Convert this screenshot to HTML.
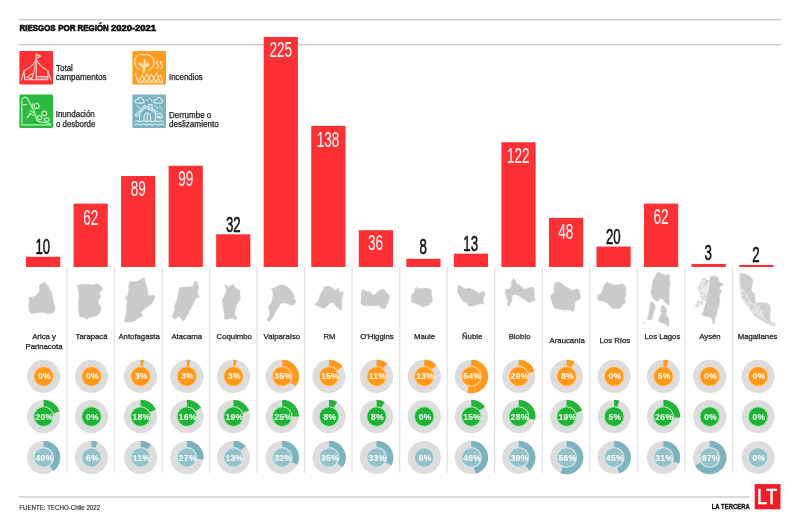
<!DOCTYPE html>
<html lang="es"><head><meta charset="utf-8"><title>Riesgos por región 2020-2021</title>
<style>
html,body{margin:0;padding:0;background:#fff;}
body{width:800px;height:530px;overflow:hidden;position:relative;font-family:"Liberation Sans",sans-serif;}
svg{position:absolute;left:0;top:0;display:block;filter:blur(0.45px);}
text{font-family:"Liberation Sans",sans-serif;}
.title{font-weight:bold;font-size:8.9px;fill:#111;stroke:#111;stroke-width:0.65px;}
.leg{font-size:8.5px;fill:#1a1a1a;stroke:#1a1a1a;stroke-width:0.25px;}
.name{font-size:7.75px;fill:#1a1a1a;stroke:#1a1a1a;stroke-width:0.25px;text-anchor:middle;}
.num{text-anchor:middle;}
.nw{font-size:21.6px;fill:#fff;stroke:#fff;stroke-width:0.12px;opacity:0.94;}
.nb{font-size:21.2px;fill:#111;stroke:#111;stroke-width:0.55px;}
.pct{font-size:8.5px;font-weight:bold;fill:#fff;stroke:#fff;stroke-width:0.15px;text-anchor:middle;opacity:0.88;letter-spacing:0.3px;}
.src{font-size:6.8px;fill:#1a1a1a;stroke:#1a1a1a;stroke-width:0.12px;}
.brand{font-size:6.4px;font-weight:bold;fill:#111;stroke:#111;stroke-width:0.3px;}
</style></head><body>
<svg width="800" height="530" viewBox="0 0 800 530">
<rect width="800" height="530" fill="#fff"/>
<g id="rules" fill="#c2c2c2">
<rect x="19" y="19.15" width="762" height="1.2"/>
<rect x="19" y="44.15" width="762" height="1.2"/>
<rect x="19" y="496.4" width="730.5" height="1.2"/>
</g>
<text class="title" y="31.3"><tspan x="19.5" textLength="36.1" lengthAdjust="spacingAndGlyphs">RIESGOS</tspan> <tspan x="58.2" textLength="17.4" lengthAdjust="spacingAndGlyphs">POR</tspan> <tspan x="77.6" textLength="31.2" lengthAdjust="spacingAndGlyphs">REGIÓN</tspan> <tspan x="111.1" textLength="44.8" lengthAdjust="spacingAndGlyphs">2020-2021</tspan></text>
<g id="legend">
<rect x="19.4" y="51" width="33.6" height="33.6" rx="1.3" fill="#fd3033"/>
<g id="ic-tent" fill="none" stroke="#ffe3e0" stroke-width="1.15" stroke-linecap="round" stroke-linejoin="round" opacity="0.85">
<path d="M36.24 53.88L36.24 79.61"/>
<path d="M36.24 54.13L40.72 56.12L36.24 58.12"/>
<path d="M36.24 59.28Q32.67 67.16 23.96 70.73"/>
<path d="M36.24 59.28Q40.14 67.16 47.86 70.73"/>
<path d="M21.47 80.02L23.96 70.73L24.79 79.61L47.86 79.61L47.86 70.73L50.93 80.02"/>
<path d="M35.99 60.52L33.92 72.97"/>
<path d="M26.45 77.37L33.50 73.05L31.84 78.37L26.45 77.37"/>
<path d="M36.24 76.54L47.86 76.54"/>
<path d="M36.24 78.03L47.86 78.03"/>
</g>
<text class="leg" x="56.0" y="70.85" textLength="16.9" lengthAdjust="spacingAndGlyphs">Total</text>
<text class="leg" x="55.7" y="79.7" textLength="50.9" lengthAdjust="spacingAndGlyphs">campamentos</text>
<rect x="132.4" y="51" width="33.6" height="33.6" rx="1.3" fill="#ff9d21"/>
<g id="ic-fire" fill="none" stroke="#fff0d0" stroke-width="1.15" stroke-linecap="round" stroke-linejoin="round" opacity="0.85">
<path d="M139.68 69.93C139.35 69.67 138.40 69.04 137.74 68.35C137.08 67.67 136.24 66.86 135.73 65.85C135.23 64.83 134.78 63.52 134.73 62.26C134.68 61.01 135.04 59.43 135.45 58.32C135.85 57.21 136.28 56.24 137.17 55.59C138.05 54.95 139.56 54.52 140.75 54.45C141.95 54.38 143.20 55.16 144.34 55.16C145.47 55.16 146.49 54.33 147.56 54.45C148.64 54.57 149.89 55.24 150.79 55.88C151.68 56.53 152.40 57.32 152.94 58.32C153.48 59.32 153.94 60.71 154.01 61.90C154.09 63.10 153.79 64.41 153.37 65.49C152.95 66.56 152.20 67.59 151.51 68.35C150.81 69.12 149.59 69.79 149.21 70.08"/>
<path d="M143.48 73.73L144.05 67.78L144.84 59.75" stroke-width="2.1" stroke-linecap="butt"/>
<path d="M144.19 67.49L138.46 63.19" stroke-width="2.1" stroke-linecap="butt"/>
<path d="M144.34 67.06L149.50 64.05" stroke-width="2.1" stroke-linecap="butt"/>
<path d="M141.47 65.34L140.75 62.62" stroke-width="2.1" stroke-linecap="butt"/>
<path d="M147.20 65.34L147.92 62.62" stroke-width="2.1" stroke-linecap="butt"/>
<path d="M158.24 61.90C158.05 61.86 157.41 61.43 157.10 61.62C156.79 61.81 156.24 62.45 156.38 63.05C156.52 63.65 157.67 64.48 157.96 65.20C158.24 65.92 158.34 66.80 158.10 67.35C157.86 67.90 156.79 68.31 156.52 68.50"/>
<path d="M162.19 61.90C162.00 61.86 161.35 61.43 161.04 61.62C160.73 61.81 160.18 62.45 160.32 63.05C160.47 63.65 161.61 64.48 161.90 65.20C162.19 65.92 162.28 66.80 162.04 67.35C161.80 67.90 160.73 68.31 160.47 68.50"/>
<path d="M135.59 73.37L136.59 77.67L138.96 81.62L140.75 77.67L142.19 75.16L144.34 79.11L146.85 73.73L148.78 78.39L151.51 74.09L153.66 78.75L156.38 72.66L158.10 77.32L160.47 75.16L161.90 78.39L162.62 82.12L137.89 82.12L136.59 77.67"/>
<path d="M141.47 81.62L144.34 79.11L147.20 81.62L148.78 78.39L151.51 81.62L153.66 78.75L156.16 81.62L158.10 77.32L160.11 81.62"/>
</g>
<text class="leg" x="169.0" y="79.9" textLength="33.7" lengthAdjust="spacingAndGlyphs">Incendios</text>
<rect x="19.4" y="94.4" width="33.6" height="33.6" rx="1.3" fill="#2cb93f"/>
<g id="ic-slide" fill="none" stroke="#d0f9cc" stroke-width="1.25" stroke-linecap="round" stroke-linejoin="round" opacity="0.85">
<path d="M22.05 124.98C22.02 123.19 21.91 118.07 21.88 114.20C21.86 110.32 21.75 104.38 21.88 101.75C22.02 99.12 22.16 99.19 22.71 98.43C23.27 97.67 24.33 97.05 25.20 97.18C26.07 97.32 27.11 98.22 27.94 99.26C28.77 100.30 29.49 102.05 30.18 103.41C30.87 104.76 31.44 106.12 32.09 107.39C32.74 108.66 33.56 109.88 34.08 111.04C34.61 112.20 34.91 113.26 35.24 114.36C35.58 115.47 35.77 116.67 36.07 117.68C36.38 118.69 36.19 119.67 37.07 120.42C37.96 121.17 39.91 121.79 41.39 122.16C42.87 122.54 44.64 122.44 45.95 122.66C47.26 122.88 48.51 123.10 49.27 123.49C50.03 123.88 50.31 124.74 50.51 124.98"/>
<path d="M22.05 124.98L50.51 124.98"/>
<path d="M23.29 104.65L26.45 104.65"/>
<path d="M30.18 110.71L34.33 112.95"/>
<path d="M29.35 113.37L33.92 115.44"/>
<path d="M27.28 117.93L30.18 113.53"/>
<path d="M31.84 107.14L32.67 103.82"/>
<ellipse cx="36.57" cy="105.90" rx="2.49" ry="2.49"/>
<ellipse cx="44.37" cy="113.37" rx="2.32" ry="2.32"/>
<ellipse cx="39.56" cy="117.52" rx="2.16" ry="2.16"/>
<ellipse cx="46.78" cy="119.59" rx="2.66" ry="1.83"/>
</g>
<text class="leg" x="55.7" y="117.4" textLength="39.1" lengthAdjust="spacingAndGlyphs">Inundación</text>
<text class="leg" x="56.0" y="127.1" textLength="39.3" lengthAdjust="spacingAndGlyphs">o desborde</text>
<rect x="132.4" y="94.4" width="33.6" height="33.6" rx="1.3" fill="#7cb3be"/>
<g id="ic-flood" fill="none" stroke="#e8fcff" stroke-width="1.1" stroke-linecap="round" stroke-linejoin="round" opacity="0.85">
<path d="M135.81 102.99C135.68 102.72 134.91 101.89 134.98 101.33C135.05 100.78 135.74 100.02 136.23 99.67C136.71 99.33 137.40 99.63 137.89 99.26C138.37 98.89 138.58 97.71 139.13 97.43C139.69 97.16 140.65 97.29 141.21 97.60C141.76 97.90 142.01 98.77 142.45 99.26C142.90 99.74 143.66 99.95 143.86 100.50C144.07 101.06 144.00 102.14 143.70 102.58C143.39 103.02 143.35 103.09 142.04 103.16C140.72 103.23 136.85 103.02 135.81 102.99"/>
<path d="M154.49 102.99C154.35 102.72 153.59 101.89 153.66 101.33C153.73 100.78 154.42 100.02 154.90 99.67C155.38 99.33 156.08 99.63 156.56 99.26C157.04 98.89 157.25 97.71 157.81 97.43C158.36 97.16 159.33 97.29 159.88 97.60C160.43 97.90 160.68 98.77 161.12 99.26C161.57 99.74 162.33 99.95 162.54 100.50C162.74 101.06 162.67 102.14 162.37 102.58C162.07 103.02 162.02 103.09 160.71 103.16C159.40 103.23 155.52 103.02 154.49 102.99"/>
<path d="M147.02 99.67L147.35 100.50"/>
<path d="M149.34 98.26L149.67 99.09"/>
<path d="M151.33 100.09L151.66 100.92"/>
<path d="M136.89 105.90L137.22 106.73"/>
<path d="M138.88 107.39L139.22 108.22"/>
<path d="M155.15 105.73L155.48 106.56"/>
<path d="M157.39 107.39L157.72 108.22"/>
<path d="M159.88 106.31L160.21 107.14"/>
<path d="M161.79 109.05L162.12 109.88"/>
<path d="M152.00 107.14L152.33 107.97"/>
<path d="M135.40 115.19L144.94 105.48L157.14 111.54"/>
<path d="M136.64 116.52L145.19 107.39L156.15 112.95"/>
<path d="M135.40 115.19L136.64 116.52"/>
<path d="M148.84 107.14L148.84 104.65L152.00 104.65L152.00 108.80"/>
<path d="M139.55 114.20L139.55 120.84"/>
<path d="M155.48 112.95L155.48 120.67"/>
<path d="M144.11 120.84C144.11 120.07 143.88 117.49 144.11 116.27C144.35 115.05 144.97 114.09 145.52 113.53C146.08 112.98 146.80 112.91 147.43 112.95C148.07 112.99 148.83 113.23 149.34 113.78C149.85 114.33 150.31 115.10 150.50 116.27C150.70 117.45 150.50 120.07 150.50 120.84"/>
<path d="M147.27 113.37L147.27 120.42"/>
<path d="M157.14 114.20L160.30 112.95L162.37 115.86L161.54 117.93L158.64 118.35L157.14 116.69"/>
<ellipse cx="159.05" cy="117.10" rx="1.16" ry="1.16"/>
<path d="M134.98 121.67C135.40 121.51 136.57 120.75 137.47 120.75C138.37 120.75 139.41 121.67 140.38 121.67C141.35 121.67 142.31 120.75 143.28 120.75C144.25 120.75 145.22 121.67 146.19 121.67C147.16 121.67 148.12 120.75 149.09 120.75C150.06 120.75 151.03 121.67 152.00 121.67C152.96 121.67 153.93 120.75 154.90 120.75C155.87 120.75 156.84 121.67 157.81 121.67C158.77 121.67 159.74 120.75 160.71 120.75C161.68 120.75 163.13 121.51 163.61 121.67"/>
<path d="M134.98 124.98C135.40 124.83 136.57 124.07 137.47 124.07C138.37 124.07 139.41 124.98 140.38 124.98C141.35 124.98 142.31 124.07 143.28 124.07C144.25 124.07 145.22 124.98 146.19 124.98C147.16 124.98 148.12 124.07 149.09 124.07C150.06 124.07 151.03 124.98 152.00 124.98C152.96 124.98 153.93 124.07 154.90 124.07C155.87 124.07 156.84 124.98 157.81 124.98C158.77 124.98 159.74 124.07 160.71 124.07C161.68 124.07 163.13 124.83 163.61 124.98"/>
</g>
<text class="leg" x="169.0" y="117.5" textLength="42.3" lengthAdjust="spacingAndGlyphs">Derrumbe o</text>
<text class="leg" x="169.0" y="127.1" textLength="49.8" lengthAdjust="spacingAndGlyphs">deslizamiento</text>
</g>
<g id="bars">
<rect x="26.00" y="256.77" width="34.2" height="10.22" fill="#fd3033"/>
<rect x="73.54" y="203.61" width="34.2" height="63.39" fill="#fd3033"/>
<rect x="121.08" y="176.00" width="34.2" height="91.00" fill="#fd3033"/>
<rect x="168.62" y="165.77" width="34.2" height="101.23" fill="#fd3033"/>
<rect x="216.16" y="234.28" width="34.2" height="32.72" fill="#fd3033"/>
<rect x="263.70" y="36.94" width="34.2" height="230.06" fill="#fd3033"/>
<rect x="311.24" y="125.90" width="34.2" height="141.10" fill="#fd3033"/>
<rect x="358.78" y="230.19" width="34.2" height="36.81" fill="#fd3033"/>
<rect x="406.32" y="258.82" width="34.2" height="8.18" fill="#fd3033"/>
<rect x="453.86" y="253.71" width="34.2" height="13.29" fill="#fd3033"/>
<rect x="501.40" y="142.25" width="34.2" height="124.74" fill="#fd3033"/>
<rect x="548.94" y="217.92" width="34.2" height="49.08" fill="#fd3033"/>
<rect x="596.48" y="246.55" width="34.2" height="20.45" fill="#fd3033"/>
<rect x="644.02" y="203.61" width="34.2" height="63.39" fill="#fd3033"/>
<rect x="691.56" y="263.93" width="34.2" height="3.07" fill="#fd3033"/>
<rect x="739.10" y="264.95" width="34.2" height="2.04" fill="#fd3033"/>
<text class="num nb" transform="translate(42.80 253.50) scale(0.625 1)">10</text>
<text class="num nw" transform="translate(90.64 224.50) scale(0.625 1)">62</text>
<text class="num nw" transform="translate(138.18 196.40) scale(0.625 1)">89</text>
<text class="num nw" transform="translate(185.72 186.00) scale(0.625 1)">99</text>
<text class="num nb" transform="translate(233.26 232.40) scale(0.625 1)">32</text>
<text class="num nw" transform="translate(280.80 57.00) scale(0.625 1)">225</text>
<text class="num nw" transform="translate(328.10 146.80) scale(0.625 1)">138</text>
<text class="num nw" transform="translate(375.60 250.20) scale(0.625 1)">36</text>
<text class="num nb" transform="translate(423.20 254.00) scale(0.625 1)">8</text>
<text class="num nb" transform="translate(470.70 250.50) scale(0.625 1)">13</text>
<text class="num nw" transform="translate(518.30 163.20) scale(0.625 1)">122</text>
<text class="num nw" transform="translate(565.80 238.50) scale(0.625 1)">48</text>
<text class="num nb" transform="translate(613.30 243.80) scale(0.625 1)">20</text>
<text class="num nw" transform="translate(661.00 224.00) scale(0.625 1)">62</text>
<text class="num nb" transform="translate(708.30 259.70) scale(0.625 1)">3</text>
<text class="num nb" transform="translate(756.00 261.80) scale(0.625 1)">2</text>
</g>
<g id="seps" stroke="#e4e4e4" stroke-width="1.4">
<line x1="66.87" y1="267" x2="66.87" y2="473"/>
<line x1="114.41" y1="267" x2="114.41" y2="473"/>
<line x1="161.95" y1="267" x2="161.95" y2="473"/>
<line x1="209.49" y1="267" x2="209.49" y2="473"/>
<line x1="257.03" y1="267" x2="257.03" y2="473"/>
<line x1="304.57" y1="267" x2="304.57" y2="473"/>
<line x1="352.11" y1="267" x2="352.11" y2="473"/>
<line x1="399.65" y1="267" x2="399.65" y2="473"/>
<line x1="447.19" y1="267" x2="447.19" y2="473"/>
<line x1="494.73" y1="267" x2="494.73" y2="473"/>
<line x1="542.27" y1="267" x2="542.27" y2="473"/>
<line x1="589.81" y1="267" x2="589.81" y2="473"/>
<line x1="637.35" y1="267" x2="637.35" y2="473"/>
<line x1="684.89" y1="267" x2="684.89" y2="473"/>
<line x1="732.43" y1="267" x2="732.43" y2="473"/>
</g>
<g id="maps" stroke-linejoin="round">
<path d="M44.8 281.6L45.8 283.8L47.8 285.6L49.4 289.2L51.4 292.2L52.4 295.8L53.0 300.0L54.2 304.2L55.0 307.8L54.6 311.4L52.4 313.2L48.2 313.8L44.0 312.6L39.8 312.2L35.6 313.0L31.4 313.8L29.6 312.0L29.0 308.4L28.6 304.8L29.4 301.8L28.4 298.8L29.0 297.4L32.0 297.0L35.6 295.8L38.0 293.4L39.8 290.4L39.2 286.8L39.8 284.6L42.2 283.8L44.0 282.0Z" fill="#cacaca" stroke="#cacaca" stroke-width="0.4"/>
<path d="M77.6 285.6L80.0 284.6L84.8 284.2L89.6 284.6L93.2 285.0L95.6 283.8L98.6 284.2L101.0 286.2L102.8 288.6L101.6 290.4L99.8 292.2L99.2 294.6L101.0 295.8L100.2 297.8L98.6 299.4L98.6 303.6L99.8 305.4L101.0 307.2L100.6 310.8L99.2 313.8L96.8 315.6L93.2 316.8L89.6 317.4L88.2 318.0L87.2 320.2L86.2 318.2L83.6 317.4L80.0 316.8L79.0 314.4L78.6 310.8L78.2 306.0L78.8 301.2L79.0 296.4L78.6 291.6L77.8 288.6Z" fill="#cacaca" stroke="#cacaca" stroke-width="0.4"/>
<path d="M144.2 277.4L145.0 280.8L146.0 284.4L147.2 288.0L147.8 292.2L148.2 295.2L151.4 295.4L154.2 295.2L155.0 297.0L153.8 300.0L152.0 303.6L148.4 306.0L144.8 308.4L141.8 311.4L140.6 313.2L143.0 315.0L140.6 317.4L138.2 318.0L135.8 320.4L132.2 321.8L128.0 322.2L124.4 321.8L124.6 319.2L125.8 315.6L126.6 310.8L126.2 307.2L127.0 303.6L127.4 300.0L125.4 298.8L126.2 296.4L128.0 295.2L128.6 290.4L129.0 285.6L129.4 282.0L131.0 281.0L132.8 281.8L135.8 281.4L139.4 280.2L142.4 278.6Z" fill="#cacaca" stroke="#cacaca" stroke-width="0.4"/>
<path d="M194.0 281.8L197.6 281.8L197.8 284.4L199.0 288.0L197.6 291.0L197.8 294.0L199.4 296.4L198.8 297.8L196.2 297.4L195.2 300.0L193.4 303.6L191.6 307.2L189.4 310.8L188.0 313.8L186.8 316.2L185.0 319.2L183.4 321.0L181.8 319.8L180.2 316.8L177.8 316.2L175.8 319.2L173.6 318.6L172.2 316.8L173.4 313.2L174.8 309.6L174.6 306.0L176.0 302.4L177.2 298.8L178.2 294.6L179.0 290.4L179.6 287.4L183.2 287.0L188.0 287.0L192.8 286.6L193.8 284.4Z" fill="#cacaca" stroke="#cacaca" stroke-width="0.4"/>
<path d="M224.6 285.0L227.0 285.6L228.8 287.4L230.6 285.6L233.4 284.2L234.2 286.8L236.6 288.6L239.0 289.8L240.2 292.2L239.8 295.8L240.6 298.2L239.0 301.2L237.2 303.6L236.0 306.6L235.4 309.6L234.8 312.6L234.6 314.6L236.0 316.6L237.0 318.0L235.4 319.8L233.4 318.6L231.2 318.0L228.8 319.0L225.8 319.4L224.2 318.6L224.6 315.6L224.0 312.0L223.4 308.4L222.8 305.4L222.2 301.8L222.6 298.8L224.0 297.0L225.0 294.0L226.2 291.6L226.4 288.6L225.4 286.8Z" fill="#cacaca" stroke="#cacaca" stroke-width="0.4"/>
<path d="M271.4 288.2L273.8 288.6L276.8 286.8L279.8 285.0L283.4 285.0L286.4 286.2L289.4 288.6L291.8 291.6L293.6 294.6L294.2 298.2L295.4 300.6L295.8 302.6L294.2 304.2L291.8 305.4L290.0 304.8L287.6 303.6L284.6 303.0L281.6 303.0L279.8 304.2L279.2 306.6L277.8 308.4L276.2 310.8L274.4 313.8L273.2 316.8L271.4 319.2L269.4 321.4L267.4 321.0L267.0 319.2L268.4 317.4L269.6 314.4L269.4 310.8L268.6 307.2L269.0 305.4L270.8 303.6L272.0 300.6L272.6 297.0L273.0 293.4L272.6 290.4Z" fill="#cacaca" stroke="#cacaca" stroke-width="0.4"/>
<path d="M323.6 287.4L326.6 286.2L330.2 286.6L332.6 288.0L335.0 290.4L336.6 289.8L337.4 288.0L338.6 288.2L339.0 291.0L339.4 292.8L342.2 291.6L343.4 292.8L342.8 295.8L341.8 298.8L341.6 302.4L342.0 306.0L341.6 309.0L340.4 310.2L339.0 309.0L337.4 307.2L335.6 306.0L334.6 304.2L333.2 302.4L331.4 302.4L329.6 303.6L327.8 305.4L326.0 307.0L324.2 308.4L321.8 308.2L319.4 306.6L317.0 305.8L315.0 304.8L315.4 303.4L317.6 301.8L319.0 299.4L319.4 296.4L320.6 293.4L322.4 291.0L323.4 289.2Z" fill="#cacaca" stroke="#cacaca" stroke-width="0.4"/>
<path d="M362.6 289.4L364.4 290.2L366.8 291.8L369.2 291.6L371.6 293.4L373.4 295.2L375.2 294.6L377.0 292.8L378.8 291.0L380.6 289.8L383.0 289.2L384.8 289.8L386.0 292.2L387.8 294.0L389.6 295.8L389.4 298.2L388.4 300.6L387.4 303.6L386.6 306.0L385.4 308.2L383.0 308.6L380.6 307.8L379.8 306.0L377.6 305.4L375.2 305.8L372.8 305.4L370.4 305.8L368.0 306.0L365.6 305.8L363.2 305.0L361.0 304.2L360.8 301.2L361.4 297.6L361.0 294.6L361.8 291.6Z" fill="#cacaca" stroke="#cacaca" stroke-width="0.4"/>
<path d="M416.0 287.0L417.8 288.2L420.8 288.6L423.8 288.0L426.8 288.0L429.2 289.0L431.8 290.4L431.0 292.8L431.8 295.8L432.6 299.4L431.8 302.4L429.8 304.2L428.0 305.4L425.6 306.0L423.2 307.0L420.8 305.4L417.8 304.2L415.4 303.6L413.0 302.6L411.0 301.4L411.4 298.8L411.0 296.4L412.6 294.0L414.2 292.2L415.0 289.8Z" fill="#cacaca" stroke="#cacaca" stroke-width="0.4"/>
<path d="M458.6 285.0L461.0 286.2L463.4 288.0L465.8 289.2L468.8 288.0L471.8 289.0L474.8 290.6L477.2 292.2L479.6 293.4L482.0 291.6L484.4 291.8L485.0 294.6L483.8 297.0L483.2 300.0L483.8 303.0L483.2 304.6L480.8 303.6L478.4 304.2L476.0 304.8L473.6 306.0L470.6 306.2L468.2 305.8L467.6 303.6L465.8 302.2L463.4 301.4L461.6 299.4L460.4 297.0L458.6 294.6L457.4 292.2L458.0 289.2L457.8 286.8Z" fill="#cacaca" stroke="#cacaca" stroke-width="0.4"/>
<path d="M513.8 278.6L515.4 280.8L516.8 283.8L519.8 285.4L522.2 287.4L524.6 289.0L528.2 288.0L531.8 287.0L534.2 287.8L533.8 291.0L534.6 294.0L534.2 297.0L535.4 300.0L533.6 301.0L531.2 301.4L528.8 303.0L527.0 301.2L524.6 299.4L522.2 298.2L519.8 296.6L518.0 295.4L515.6 294.6L513.2 294.6L512.0 296.4L511.4 299.4L511.8 301.4L510.2 303.6L509.4 305.8L507.8 306.2L507.2 304.2L508.2 301.4L507.2 298.8L505.8 295.8L505.0 292.2L505.4 289.4L507.8 289.0L510.6 288.6L511.4 285.6L511.0 282.6L512.0 280.6Z" fill="#cacaca" stroke="#cacaca" stroke-width="0.4"/>
<path d="M555.2 282.6L558.8 282.2L561.8 283.4L564.2 285.6L567.2 287.4L570.2 289.0L572.0 291.0L574.4 289.8L576.8 289.0L579.2 289.4L579.4 292.2L580.4 295.2L580.6 298.2L578.6 300.0L576.2 301.0L575.0 303.6L574.6 307.2L573.8 310.2L572.6 312.0L570.8 310.2L567.8 309.8L564.8 310.2L561.2 309.6L557.6 309.0L554.6 308.4L553.4 305.8L552.2 302.4L551.0 299.4L550.2 296.4L551.4 294.6L553.4 293.0L554.2 290.4L553.8 288.0L554.6 285.0Z" fill="#cacaca" stroke="#cacaca" stroke-width="0.4"/>
<path d="M607.4 281.8L609.2 283.4L612.8 284.4L617.0 285.0L620.0 284.6L621.8 283.4L623.6 284.6L625.4 285.6L625.8 289.2L625.4 292.8L626.2 295.2L624.8 297.0L624.6 299.4L626.0 301.4L624.8 303.0L623.0 304.8L621.2 307.2L619.4 308.4L615.8 308.6L612.2 308.4L610.4 306.6L608.6 304.8L606.8 302.4L603.8 301.4L600.8 301.0L598.2 300.0L597.4 297.6L597.8 295.2L600.2 294.0L601.8 292.2L602.6 289.2L603.8 286.2L605.0 283.8Z" fill="#cacaca" stroke="#cacaca" stroke-width="0.4"/>
<path d="M658.4 271.8L660.2 273.6L663.2 274.6L666.2 275.4L668.6 274.2L669.8 276.0L669.4 279.6L670.2 283.2L669.4 286.8L669.0 290.4L669.4 294.0L669.0 297.6L669.2 301.2L669.4 304.2L668.0 305.4L666.2 303.6L664.4 301.4L663.2 299.4L661.4 298.6L659.6 298.8L658.4 300.6L656.6 301.4L654.8 300.0L653.4 298.2L651.8 295.8L651.0 292.8L651.4 289.2L652.2 285.6L652.4 282.0L653.4 279.6L655.0 277.2L656.0 274.2Z" fill="#cacaca" stroke="#cacaca" stroke-width="0.4"/>
<path d="M650.6 301.8L653.0 302.4L654.8 304.2L655.4 307.2L654.6 310.2L653.4 313.2L652.6 316.2L651.8 319.2L649.8 320.2L647.6 319.4L647.4 317.4L648.8 315.0L649.0 311.4L649.8 307.8L650.0 304.8Z" fill="#cacaca" stroke="#cacaca" stroke-width="0.4"/>
<path d="M661.4 306.0L663.8 305.4L665.6 307.2L666.8 310.2L666.2 313.2L667.0 316.2L668.6 318.0L669.2 321.0L668.6 323.4L669.4 325.8L668.0 326.6L666.2 324.6L663.8 323.4L660.8 322.8L658.6 321.0L659.0 318.0L660.6 315.6L661.4 312.6L660.8 309.6Z" fill="#cacaca" stroke="#cacaca" stroke-width="0.4"/>
<path d="M642.2 322.2L645.2 321.8L647.0 322.8L645.2 323.8L642.8 323.4Z" fill="#cacaca" stroke="#cacaca" stroke-width="0.4" opacity="0.35"/>
<path d="M701.0 279.0L704.0 277.8L707.0 279.0L708.2 282.0L707.6 285.6L707.4 290.4L707.0 295.2L706.2 299.4L704.0 302.4L701.6 304.8L698.6 306.0L695.6 307.2L693.8 306.0L695.6 303.6L698.0 301.2L699.2 298.2L701.0 295.8L700.4 292.8L698.0 290.4L696.8 288.0L698.6 285.6L700.4 283.2Z" fill="#cacaca" stroke="#cacaca" stroke-width="0.4" opacity="0.3"/>
<path d="M710.6 276.6L714.2 276.0L717.8 277.4L719.0 280.2L719.6 282.6L722.6 283.4L723.4 285.0L720.8 286.2L719.0 288.0L720.8 289.8L721.4 292.2L719.8 294.0L719.4 297.0L719.8 300.6L719.0 304.2L719.4 306.0L717.8 308.4L717.2 311.4L716.6 314.4L715.4 317.4L714.6 320.4L714.2 324.0L713.0 323.4L712.6 320.4L711.2 318.0L708.8 316.8L705.8 316.2L702.8 315.6L701.6 313.8L703.4 311.4L704.2 308.4L705.2 305.4L706.2 301.8L707.0 298.2L707.6 294.6L708.2 291.0L708.8 287.4L709.4 283.2L709.8 279.6Z" fill="#cacaca" stroke="#cacaca" stroke-width="0.4"/>
<path d="M740.2 273.4L744.1 274.0L748.9 275.8L751.9 278.3L752.8 281.3L751.9 284.9L751.3 288.5L751.9 292.1L754.3 293.6L754.9 297.0L754.7 300.6L756.1 302.8L761.0 302.5L767.0 303.0L770.0 305.2L770.6 309.0L770.1 313.9L770.4 318.7L771.1 322.1L773.6 323.0L776.4 324.7L775.4 326.2L771.8 325.9L768.2 324.5L764.6 322.3L761.0 320.1L757.3 318.1L754.3 315.7L751.9 312.7L750.1 309.6L747.7 306.6L745.3 303.6L743.1 300.0L741.7 296.4L740.7 292.7L740.2 288.5L739.7 283.7L739.5 278.9Z" fill="#e3e3e3" stroke="#e3e3e3" stroke-width="0.4"/>
<path d="M740.2 273.4L744.1 274.0L748.9 275.8L751.9 278.3L752.8 281.3L751.9 284.9L751.3 288.5L751.9 292.1L754.3 293.6L754.9 297.0L754.7 300.6L755.2 303.0L752.5 303.2L750.1 299.6L748.3 296.0L746.2 292.7L744.1 290.3L742.1 287.9L740.7 283.7L740.0 278.9Z" fill="#cdcdcd" stroke="#cdcdcd" stroke-width="0.4"/>
<path d="M756.1 303.0L761.0 302.6L767.0 303.1L769.9 305.2L770.4 309.0L769.9 313.9L770.1 318.7L770.6 322.1L768.2 322.6L766.0 320.1L764.8 316.5L763.9 312.9L762.4 309.3L760.0 306.1Z" fill="#d2d2d2" stroke="#d2d2d2" stroke-width="0.4"/>
<ellipse cx="742.6" cy="292.7" rx="0.8" ry="1.0" fill="#cccccc"/>
<ellipse cx="744.1" cy="297.1" rx="0.9" ry="1.1" fill="#cccccc"/>
<ellipse cx="744.7" cy="293.6" rx="0.7" ry="1.0" fill="#cccccc"/>
<ellipse cx="742.3" cy="296.6" rx="0.9" ry="0.8" fill="#cccccc"/>
<ellipse cx="762.5" cy="312.9" rx="0.6" ry="0.8" fill="#cccccc"/>
<ellipse cx="761.7" cy="308.7" rx="1.0" ry="0.7" fill="#cccccc"/>
<ellipse cx="759.8" cy="309.5" rx="0.8" ry="0.8" fill="#cccccc"/>
<ellipse cx="763.8" cy="321.1" rx="0.8" ry="0.9" fill="#cccccc"/>
<ellipse cx="745.3" cy="293.6" rx="0.5" ry="1.0" fill="#cccccc"/>
<ellipse cx="744.2" cy="297.9" rx="0.7" ry="1.0" fill="#cccccc"/>
<ellipse cx="763.2" cy="318.4" rx="0.7" ry="0.7" fill="#cccccc"/>
<ellipse cx="745.5" cy="297.4" rx="0.6" ry="0.8" fill="#cccccc"/>
<ellipse cx="750.9" cy="308.5" rx="1.1" ry="0.9" fill="#cccccc"/>
<ellipse cx="754.9" cy="310.2" rx="0.9" ry="0.5" fill="#cccccc"/>
<ellipse cx="764.8" cy="316.2" rx="0.7" ry="0.7" fill="#cccccc"/>
<ellipse cx="742.4" cy="292.0" rx="0.6" ry="0.6" fill="#cccccc"/>
<ellipse cx="747.6" cy="301.3" rx="0.7" ry="0.6" fill="#cccccc"/>
<ellipse cx="753.5" cy="305.8" rx="0.6" ry="0.6" fill="#cccccc"/>
<ellipse cx="747.9" cy="301.9" rx="0.6" ry="1.0" fill="#cccccc"/>
<ellipse cx="755.3" cy="315.6" rx="0.7" ry="0.6" fill="#cccccc"/>
<ellipse cx="764.2" cy="316.5" rx="1.0" ry="0.9" fill="#cccccc"/>
<ellipse cx="766.5" cy="322.5" rx="1.1" ry="0.7" fill="#cccccc"/>
<ellipse cx="746.8" cy="297.3" rx="0.6" ry="0.6" fill="#cccccc"/>
<ellipse cx="758.7" cy="316.3" rx="0.6" ry="0.9" fill="#cccccc"/>
<ellipse cx="744.2" cy="294.7" rx="1.0" ry="1.0" fill="#cccccc"/>
<ellipse cx="750.3" cy="307.9" rx="0.6" ry="0.5" fill="#cccccc"/>
<ellipse cx="747.6" cy="299.4" rx="0.6" ry="0.9" fill="#cccccc"/>
<ellipse cx="747.8" cy="303.6" rx="0.6" ry="1.0" fill="#cccccc"/>
<ellipse cx="750.4" cy="304.9" rx="0.9" ry="1.0" fill="#cccccc"/>
<ellipse cx="754.5" cy="307.4" rx="0.8" ry="0.5" fill="#cccccc"/>
<ellipse cx="760.6" cy="308.2" rx="0.7" ry="0.8" fill="#cccccc"/>
<ellipse cx="756.0" cy="315.8" rx="0.6" ry="0.8" fill="#cccccc"/>
<ellipse cx="747.5" cy="298.9" rx="1.0" ry="0.8" fill="#cccccc"/>
<ellipse cx="756.1" cy="314.9" rx="1.0" ry="0.8" fill="#cccccc"/>
<ellipse cx="757.5" cy="306.5" rx="0.8" ry="0.9" fill="#cccccc"/>
<ellipse cx="753.1" cy="307.4" rx="0.8" ry="1.1" fill="#cccccc"/>
<ellipse cx="759.9" cy="318.8" rx="1.1" ry="0.7" fill="#cccccc"/>
<ellipse cx="742.7" cy="297.7" rx="0.5" ry="0.9" fill="#cccccc"/>
<ellipse cx="762.3" cy="319.5" rx="0.6" ry="0.9" fill="#cccccc"/>
<ellipse cx="765.0" cy="321.8" rx="0.6" ry="1.1" fill="#cccccc"/>
<ellipse cx="751.6" cy="305.9" rx="1.1" ry="1.0" fill="#cccccc"/>
<ellipse cx="746.1" cy="300.3" rx="0.9" ry="0.5" fill="#cccccc"/>
<ellipse cx="755.9" cy="304.3" rx="0.5" ry="0.7" fill="#cccccc"/>
<ellipse cx="757.9" cy="306.7" rx="0.5" ry="1.1" fill="#cccccc"/>
<ellipse cx="743.6" cy="298.5" rx="0.5" ry="1.0" fill="#cccccc"/>
<ellipse cx="756.4" cy="313.0" rx="0.6" ry="0.5" fill="#cccccc"/>
<ellipse cx="773.5" cy="323.3" rx="0.5" ry="1.0" fill="#cccccc"/>
<ellipse cx="773.0" cy="325.2" rx="0.5" ry="0.9" fill="#cccccc"/>
<ellipse cx="771.3" cy="322.8" rx="0.8" ry="1.0" fill="#cccccc"/>
<ellipse cx="769.5" cy="321.8" rx="0.8" ry="0.6" fill="#cccccc"/>
<ellipse cx="768.0" cy="321.9" rx="0.5" ry="0.6" fill="#cccccc"/>
<ellipse cx="769.9" cy="322.6" rx="0.9" ry="0.6" fill="#cccccc"/>
<ellipse cx="701.0" cy="283.0" rx="0.7" ry="0.5" fill="#cccccc"/>
<ellipse cx="704.4" cy="294.0" rx="0.6" ry="0.8" fill="#cccccc"/>
<ellipse cx="707.3" cy="280.9" rx="1.0" ry="0.8" fill="#cccccc"/>
<ellipse cx="700.9" cy="302.3" rx="0.7" ry="0.8" fill="#cccccc"/>
<ellipse cx="698.7" cy="302.3" rx="0.9" ry="0.9" fill="#cccccc"/>
<ellipse cx="699.6" cy="288.0" rx="0.5" ry="0.6" fill="#cccccc"/>
<ellipse cx="706.3" cy="297.5" rx="0.7" ry="0.6" fill="#cccccc"/>
<ellipse cx="697.6" cy="306.1" rx="1.1" ry="0.8" fill="#cccccc"/>
<ellipse cx="697.3" cy="306.2" rx="0.7" ry="0.7" fill="#cccccc"/>
<ellipse cx="700.6" cy="292.6" rx="0.6" ry="0.8" fill="#cccccc"/>
<ellipse cx="702.2" cy="293.4" rx="1.0" ry="0.9" fill="#cccccc"/>
<ellipse cx="699.4" cy="287.4" rx="1.1" ry="0.6" fill="#cccccc"/>
<ellipse cx="704.2" cy="296.7" rx="0.5" ry="1.0" fill="#cccccc"/>
<ellipse cx="706.6" cy="296.2" rx="0.9" ry="1.0" fill="#cccccc"/>
<ellipse cx="701.1" cy="302.3" rx="1.0" ry="1.0" fill="#cccccc"/>
<ellipse cx="702.2" cy="304.0" rx="0.9" ry="0.9" fill="#cccccc"/>
<ellipse cx="701.8" cy="296.3" rx="0.9" ry="0.9" fill="#cccccc"/>
<ellipse cx="705.3" cy="299.8" rx="0.8" ry="0.8" fill="#cccccc"/>
<ellipse cx="703.3" cy="279.7" rx="0.9" ry="0.7" fill="#cccccc"/>
<ellipse cx="704.3" cy="283.8" rx="0.9" ry="1.1" fill="#cccccc"/>
<ellipse cx="700.9" cy="289.0" rx="0.8" ry="0.9" fill="#cccccc"/>
<ellipse cx="704.8" cy="295.9" rx="0.9" ry="0.5" fill="#cccccc"/>
<ellipse cx="704.5" cy="286.7" rx="0.8" ry="0.5" fill="#cccccc"/>
<ellipse cx="703.5" cy="298.2" rx="0.9" ry="0.7" fill="#cccccc"/>
<ellipse cx="701.2" cy="291.5" rx="0.8" ry="0.6" fill="#cccccc"/>
<ellipse cx="706.7" cy="283.7" rx="1.1" ry="1.1" fill="#cccccc"/>
<ellipse cx="700.3" cy="285.7" rx="0.6" ry="1.1" fill="#cccccc"/>
<ellipse cx="707.5" cy="281.7" rx="1.0" ry="0.8" fill="#cccccc"/>
<ellipse cx="697.1" cy="304.2" rx="0.8" ry="0.5" fill="#cccccc"/>
<ellipse cx="700.3" cy="286.7" rx="0.6" ry="0.7" fill="#cccccc"/>
<ellipse cx="698.4" cy="302.5" rx="0.5" ry="1.0" fill="#cccccc"/>
<ellipse cx="705.9" cy="281.3" rx="1.1" ry="0.9" fill="#cccccc"/>
<ellipse cx="706.8" cy="286.3" rx="0.7" ry="0.7" fill="#cccccc"/>
<ellipse cx="699.0" cy="290.4" rx="0.7" ry="0.5" fill="#cccccc"/>
<ellipse cx="697.9" cy="305.3" rx="0.6" ry="0.7" fill="#cccccc"/>
<ellipse cx="701.2" cy="283.4" rx="0.7" ry="1.1" fill="#cccccc"/>
<ellipse cx="704.2" cy="279.3" rx="0.9" ry="0.8" fill="#cccccc"/>
<ellipse cx="704.6" cy="296.7" rx="0.7" ry="0.5" fill="#cccccc"/>
<ellipse cx="707.1" cy="281.5" rx="0.8" ry="0.7" fill="#cccccc"/>
<ellipse cx="703.2" cy="286.6" rx="0.8" ry="0.7" fill="#cccccc"/>
</g>
<g id="names">
<text class="name" x="44.00" y="338.9">Arica y</text>
<text class="name" x="44.00" y="348.5">Parinacota</text>
<text class="name" x="91.57" y="338.9">Tarapacá</text>
<text class="name" x="139.14" y="338.9">Antofagasta</text>
<text class="name" x="186.71" y="338.9">Atacama</text>
<text class="name" x="234.28" y="338.9">Coquimbo</text>
<text class="name" x="281.85" y="338.9">Valparaíso</text>
<text class="name" x="329.42" y="338.9">RM</text>
<text class="name" x="376.99" y="338.9">O'Higgins</text>
<text class="name" x="424.56" y="338.9">Maule</text>
<text class="name" x="472.13" y="338.9">Ñuble</text>
<text class="name" x="519.70" y="338.9">Biobío</text>
<text class="name" x="567.27" y="343.2">Araucanía</text>
<text class="name" x="614.84" y="343.2">Los Ríos</text>
<text class="name" x="662.41" y="338.9">Los Lagos</text>
<text class="name" x="709.98" y="338.9">Aysén</text>
<text class="name" x="757.55" y="338.9">Magallanes</text>
</g>
<g id="donuts">
<circle cx="43.60" cy="376.45" r="16.6" fill="#dddddd"/>
<circle cx="43.60" cy="376.45" r="9.9" fill="#ff9818" stroke="#ffd2a0" stroke-width="1.1"/>
<text class="pct" x="44.50" y="379.4">0%</text>
<circle cx="91.50" cy="376.45" r="16.6" fill="#dddddd"/>
<circle cx="91.50" cy="376.45" r="9.9" fill="#ff9818" stroke="#ffd2a0" stroke-width="1.1"/>
<text class="pct" x="92.40" y="379.4">0%</text>
<circle cx="140.60" cy="376.45" r="16.6" fill="#dddddd"/>
<path d="M140.60 359.65A16.8 16.8 0 0 1 143.75 359.95L142.29 367.61A9 9 0 0 0 140.60 367.45Z" fill="#ff9a1c"/>
<circle cx="140.60" cy="376.45" r="9.9" fill="#ff9818" stroke="#ffd2a0" stroke-width="1.1"/>
<text class="pct" x="141.50" y="379.4">3%</text>
<circle cx="186.90" cy="376.45" r="16.6" fill="#dddddd"/>
<path d="M186.90 359.65A16.8 16.8 0 0 1 190.05 359.95L188.59 367.61A9 9 0 0 0 186.90 367.45Z" fill="#ff9a1c"/>
<circle cx="186.90" cy="376.45" r="9.9" fill="#ff9818" stroke="#ffd2a0" stroke-width="1.1"/>
<text class="pct" x="187.80" y="379.4">3%</text>
<circle cx="233.50" cy="376.45" r="16.6" fill="#dddddd"/>
<path d="M233.50 359.65A16.8 16.8 0 0 1 236.65 359.95L235.19 367.61A9 9 0 0 0 233.50 367.45Z" fill="#ff9a1c"/>
<circle cx="233.50" cy="376.45" r="9.9" fill="#ff9818" stroke="#ffd2a0" stroke-width="1.1"/>
<text class="pct" x="234.40" y="379.4">3%</text>
<circle cx="282.20" cy="376.45" r="16.6" fill="#dddddd"/>
<path d="M282.20 359.65A16.8 16.8 0 0 1 295.79 386.32L289.48 381.74A9 9 0 0 0 282.20 367.45Z" fill="#ff9a1c"/>
<circle cx="282.20" cy="376.45" r="9.9" fill="#ff9818" stroke="#ffd2a0" stroke-width="1.1"/>
<text class="pct" x="283.10" y="379.4">35%</text>
<circle cx="329.00" cy="376.45" r="16.6" fill="#dddddd"/>
<path d="M329.00 359.65A16.8 16.8 0 0 1 342.59 366.58L336.28 371.16A9 9 0 0 0 329.00 367.45Z" fill="#ff9a1c"/>
<circle cx="329.00" cy="376.45" r="9.9" fill="#ff9818" stroke="#ffd2a0" stroke-width="1.1"/>
<text class="pct" x="329.90" y="379.4">15%</text>
<circle cx="376.60" cy="376.45" r="16.6" fill="#dddddd"/>
<path d="M376.60 359.65A16.8 16.8 0 0 1 387.31 363.51L382.34 369.52A9 9 0 0 0 376.60 367.45Z" fill="#ff9a1c"/>
<circle cx="376.60" cy="376.45" r="9.9" fill="#ff9818" stroke="#ffd2a0" stroke-width="1.1"/>
<text class="pct" x="377.50" y="379.4">11%</text>
<circle cx="424.25" cy="376.45" r="16.6" fill="#dddddd"/>
<path d="M424.25 359.65A16.8 16.8 0 0 1 436.50 364.95L430.81 370.29A9 9 0 0 0 424.25 367.45Z" fill="#ff9a1c"/>
<circle cx="424.25" cy="376.45" r="9.9" fill="#ff9818" stroke="#ffd2a0" stroke-width="1.1"/>
<text class="pct" x="425.15" y="379.4">13%</text>
<circle cx="471.30" cy="376.45" r="16.6" fill="#dddddd"/>
<path d="M471.30 359.65A16.8 16.8 0 1 1 467.12 392.72L469.06 385.17A9 9 0 1 0 471.30 367.45Z" fill="#ff9a1c"/>
<circle cx="471.30" cy="376.45" r="9.9" fill="#ff9818" stroke="#ffd2a0" stroke-width="1.1"/>
<text class="pct" x="472.20" y="379.4">54%</text>
<circle cx="518.75" cy="376.45" r="16.6" fill="#dddddd"/>
<path d="M518.75 359.65A16.8 16.8 0 0 1 534.73 371.26L527.31 373.67A9 9 0 0 0 518.75 367.45Z" fill="#ff9a1c"/>
<circle cx="518.75" cy="376.45" r="9.9" fill="#ff9818" stroke="#ffd2a0" stroke-width="1.1"/>
<text class="pct" x="519.65" y="379.4">20%</text>
<circle cx="566.60" cy="376.45" r="16.6" fill="#dddddd"/>
<path d="M566.60 359.65A16.8 16.8 0 0 1 574.69 361.73L570.94 368.56A9 9 0 0 0 566.60 367.45Z" fill="#ff9a1c"/>
<circle cx="566.60" cy="376.45" r="9.9" fill="#ff9818" stroke="#ffd2a0" stroke-width="1.1"/>
<text class="pct" x="567.50" y="379.4">8%</text>
<circle cx="614.10" cy="376.45" r="16.6" fill="#dddddd"/>
<circle cx="614.10" cy="376.45" r="9.9" fill="#ff9818" stroke="#ffd2a0" stroke-width="1.1"/>
<text class="pct" x="615.00" y="379.4">0%</text>
<circle cx="663.40" cy="376.45" r="16.6" fill="#dddddd"/>
<path d="M663.40 359.65A16.8 16.8 0 0 1 668.59 360.47L666.18 367.89A9 9 0 0 0 663.40 367.45Z" fill="#ff9a1c"/>
<circle cx="663.40" cy="376.45" r="9.9" fill="#ff9818" stroke="#ffd2a0" stroke-width="1.1"/>
<text class="pct" x="664.30" y="379.4">5%</text>
<circle cx="709.70" cy="376.45" r="16.6" fill="#dddddd"/>
<circle cx="709.70" cy="376.45" r="9.9" fill="#ff9818" stroke="#ffd2a0" stroke-width="1.1"/>
<text class="pct" x="710.60" y="379.4">0%</text>
<circle cx="758.10" cy="376.45" r="16.6" fill="#dddddd"/>
<circle cx="758.10" cy="376.45" r="9.9" fill="#ff9818" stroke="#ffd2a0" stroke-width="1.1"/>
<text class="pct" x="759.00" y="379.4">0%</text>
<circle cx="43.60" cy="416.6" r="16.6" fill="#dddddd"/>
<path d="M43.60 399.80A16.8 16.8 0 0 1 59.58 411.41L52.16 413.82A9 9 0 0 0 43.60 407.60Z" fill="#24b439"/>
<circle cx="43.60" cy="416.6" r="9.9" fill="#20b236" stroke="#a6ecb0" stroke-width="1.1"/>
<text class="pct" x="44.50" y="419.6">20%</text>
<circle cx="91.50" cy="416.6" r="16.6" fill="#dddddd"/>
<circle cx="91.50" cy="416.6" r="9.9" fill="#20b236" stroke="#a6ecb0" stroke-width="1.1"/>
<text class="pct" x="92.40" y="419.6">0%</text>
<circle cx="140.60" cy="416.6" r="16.6" fill="#dddddd"/>
<path d="M140.60 399.80A16.8 16.8 0 0 1 155.80 409.45L148.74 412.77A9 9 0 0 0 140.60 407.60Z" fill="#24b439"/>
<circle cx="140.60" cy="416.6" r="9.9" fill="#20b236" stroke="#a6ecb0" stroke-width="1.1"/>
<text class="pct" x="141.50" y="419.6">18%</text>
<circle cx="186.90" cy="416.6" r="16.6" fill="#dddddd"/>
<path d="M186.90 399.80A16.8 16.8 0 0 1 201.08 407.60L194.50 411.78A9 9 0 0 0 186.90 407.60Z" fill="#24b439"/>
<circle cx="186.90" cy="416.6" r="9.9" fill="#20b236" stroke="#a6ecb0" stroke-width="1.1"/>
<text class="pct" x="187.80" y="419.6">16%</text>
<circle cx="233.50" cy="416.6" r="16.6" fill="#dddddd"/>
<path d="M233.50 399.80A16.8 16.8 0 0 1 249.12 410.42L241.87 413.29A9 9 0 0 0 233.50 407.60Z" fill="#24b439"/>
<circle cx="233.50" cy="416.6" r="9.9" fill="#20b236" stroke="#a6ecb0" stroke-width="1.1"/>
<text class="pct" x="234.40" y="419.6">19%</text>
<circle cx="282.20" cy="416.6" r="16.6" fill="#dddddd"/>
<path d="M282.20 399.80A16.8 16.8 0 0 1 299.00 416.60L291.20 416.60A9 9 0 0 0 282.20 407.60Z" fill="#24b439"/>
<circle cx="282.20" cy="416.6" r="9.9" fill="#20b236" stroke="#a6ecb0" stroke-width="1.1"/>
<text class="pct" x="283.10" y="419.6">25%</text>
<circle cx="329.00" cy="416.6" r="16.6" fill="#dddddd"/>
<path d="M329.00 399.80A16.8 16.8 0 0 1 337.09 401.88L333.34 408.71A9 9 0 0 0 329.00 407.60Z" fill="#24b439"/>
<circle cx="329.00" cy="416.6" r="9.9" fill="#20b236" stroke="#a6ecb0" stroke-width="1.1"/>
<text class="pct" x="329.90" y="419.6">8%</text>
<circle cx="376.60" cy="416.6" r="16.6" fill="#dddddd"/>
<path d="M376.60 399.80A16.8 16.8 0 0 1 384.69 401.88L380.94 408.71A9 9 0 0 0 376.60 407.60Z" fill="#24b439"/>
<circle cx="376.60" cy="416.6" r="9.9" fill="#20b236" stroke="#a6ecb0" stroke-width="1.1"/>
<text class="pct" x="377.50" y="419.6">8%</text>
<circle cx="424.25" cy="416.6" r="16.6" fill="#dddddd"/>
<circle cx="424.25" cy="416.6" r="9.9" fill="#20b236" stroke="#a6ecb0" stroke-width="1.1"/>
<text class="pct" x="425.15" y="419.6">0%</text>
<circle cx="471.30" cy="416.6" r="16.6" fill="#dddddd"/>
<path d="M471.30 399.80A16.8 16.8 0 0 1 484.89 406.73L478.58 411.31A9 9 0 0 0 471.30 407.60Z" fill="#24b439"/>
<circle cx="471.30" cy="416.6" r="9.9" fill="#20b236" stroke="#a6ecb0" stroke-width="1.1"/>
<text class="pct" x="472.20" y="419.6">15%</text>
<circle cx="518.75" cy="416.6" r="16.6" fill="#dddddd"/>
<path d="M518.75 399.80A16.8 16.8 0 0 1 535.25 419.75L527.59 418.29A9 9 0 0 0 518.75 407.60Z" fill="#24b439"/>
<circle cx="518.75" cy="416.6" r="9.9" fill="#20b236" stroke="#a6ecb0" stroke-width="1.1"/>
<text class="pct" x="519.65" y="419.6">28%</text>
<circle cx="566.60" cy="416.6" r="16.6" fill="#dddddd"/>
<path d="M566.60 399.80A16.8 16.8 0 0 1 582.22 410.42L574.97 413.29A9 9 0 0 0 566.60 407.60Z" fill="#24b439"/>
<circle cx="566.60" cy="416.6" r="9.9" fill="#20b236" stroke="#a6ecb0" stroke-width="1.1"/>
<text class="pct" x="567.50" y="419.6">19%</text>
<circle cx="614.10" cy="416.6" r="16.6" fill="#dddddd"/>
<path d="M614.10 399.80A16.8 16.8 0 0 1 619.29 400.62L616.88 408.04A9 9 0 0 0 614.10 407.60Z" fill="#24b439"/>
<circle cx="614.10" cy="416.6" r="9.9" fill="#20b236" stroke="#a6ecb0" stroke-width="1.1"/>
<text class="pct" x="615.00" y="419.6">5%</text>
<circle cx="663.40" cy="416.6" r="16.6" fill="#dddddd"/>
<path d="M663.40 399.80A16.8 16.8 0 0 1 680.17 417.65L672.38 417.17A9 9 0 0 0 663.40 407.60Z" fill="#24b439"/>
<circle cx="663.40" cy="416.6" r="9.9" fill="#20b236" stroke="#a6ecb0" stroke-width="1.1"/>
<text class="pct" x="664.30" y="419.6">26%</text>
<circle cx="709.70" cy="416.6" r="16.6" fill="#dddddd"/>
<circle cx="709.70" cy="416.6" r="9.9" fill="#20b236" stroke="#a6ecb0" stroke-width="1.1"/>
<text class="pct" x="710.60" y="419.6">0%</text>
<circle cx="758.10" cy="416.6" r="16.6" fill="#dddddd"/>
<circle cx="758.10" cy="416.6" r="9.9" fill="#20b236" stroke="#a6ecb0" stroke-width="1.1"/>
<text class="pct" x="759.00" y="419.6">0%</text>
<circle cx="43.60" cy="457.5" r="16.6" fill="#dddddd"/>
<path d="M43.60 440.70A16.8 16.8 0 0 1 53.47 471.09L48.89 464.78A9 9 0 0 0 43.60 448.50Z" fill="#7cb3be"/>
<circle cx="43.60" cy="457.5" r="9.9" fill="#95c2ca" stroke="#d2e8ec" stroke-width="1.1"/>
<text class="pct" x="44.50" y="460.5">40%</text>
<circle cx="91.50" cy="457.5" r="16.6" fill="#dddddd"/>
<path d="M91.50 440.70A16.8 16.8 0 0 1 97.68 441.88L94.81 449.13A9 9 0 0 0 91.50 448.50Z" fill="#7cb3be"/>
<circle cx="91.50" cy="457.5" r="9.9" fill="#95c2ca" stroke="#d2e8ec" stroke-width="1.1"/>
<text class="pct" x="92.40" y="460.5">6%</text>
<circle cx="140.60" cy="457.5" r="16.6" fill="#dddddd"/>
<path d="M140.60 440.70A16.8 16.8 0 0 1 151.31 444.56L146.34 450.57A9 9 0 0 0 140.60 448.50Z" fill="#7cb3be"/>
<circle cx="140.60" cy="457.5" r="9.9" fill="#95c2ca" stroke="#d2e8ec" stroke-width="1.1"/>
<text class="pct" x="141.50" y="460.5">11%</text>
<circle cx="186.90" cy="457.5" r="16.6" fill="#dddddd"/>
<path d="M186.90 440.70A16.8 16.8 0 0 1 203.57 459.61L195.83 458.63A9 9 0 0 0 186.90 448.50Z" fill="#7cb3be"/>
<circle cx="186.90" cy="457.5" r="9.9" fill="#95c2ca" stroke="#d2e8ec" stroke-width="1.1"/>
<text class="pct" x="187.80" y="460.5">27%</text>
<circle cx="233.50" cy="457.5" r="16.6" fill="#dddddd"/>
<path d="M233.50 440.70A16.8 16.8 0 0 1 245.75 446.00L240.06 451.34A9 9 0 0 0 233.50 448.50Z" fill="#7cb3be"/>
<circle cx="233.50" cy="457.5" r="9.9" fill="#95c2ca" stroke="#d2e8ec" stroke-width="1.1"/>
<text class="pct" x="234.40" y="460.5">13%</text>
<circle cx="282.20" cy="457.5" r="16.6" fill="#dddddd"/>
<path d="M282.20 440.70A16.8 16.8 0 0 1 297.40 464.65L290.34 461.33A9 9 0 0 0 282.20 448.50Z" fill="#7cb3be"/>
<circle cx="282.20" cy="457.5" r="9.9" fill="#95c2ca" stroke="#d2e8ec" stroke-width="1.1"/>
<text class="pct" x="283.10" y="460.5">32%</text>
<circle cx="329.00" cy="457.5" r="16.6" fill="#dddddd"/>
<path d="M329.00 440.70A16.8 16.8 0 0 1 342.59 467.37L336.28 462.79A9 9 0 0 0 329.00 448.50Z" fill="#7cb3be"/>
<circle cx="329.00" cy="457.5" r="9.9" fill="#95c2ca" stroke="#d2e8ec" stroke-width="1.1"/>
<text class="pct" x="329.90" y="460.5">35%</text>
<circle cx="376.60" cy="457.5" r="16.6" fill="#dddddd"/>
<path d="M376.60 440.70A16.8 16.8 0 0 1 391.32 465.59L384.49 461.84A9 9 0 0 0 376.60 448.50Z" fill="#7cb3be"/>
<circle cx="376.60" cy="457.5" r="9.9" fill="#95c2ca" stroke="#d2e8ec" stroke-width="1.1"/>
<text class="pct" x="377.50" y="460.5">33%</text>
<circle cx="424.25" cy="457.5" r="16.6" fill="#dddddd"/>
<circle cx="424.25" cy="457.5" r="9.9" fill="#95c2ca" stroke="#d2e8ec" stroke-width="1.1"/>
<text class="pct" x="425.15" y="460.5">0%</text>
<circle cx="471.30" cy="457.5" r="16.6" fill="#dddddd"/>
<path d="M471.30 440.70A16.8 16.8 0 0 1 475.48 473.77L473.54 466.22A9 9 0 0 0 471.30 448.50Z" fill="#7cb3be"/>
<circle cx="471.30" cy="457.5" r="9.9" fill="#95c2ca" stroke="#d2e8ec" stroke-width="1.1"/>
<text class="pct" x="472.20" y="460.5">46%</text>
<circle cx="518.75" cy="457.5" r="16.6" fill="#dddddd"/>
<path d="M518.75 440.70A16.8 16.8 0 0 1 529.46 470.44L524.49 464.43A9 9 0 0 0 518.75 448.50Z" fill="#7cb3be"/>
<circle cx="518.75" cy="457.5" r="9.9" fill="#95c2ca" stroke="#d2e8ec" stroke-width="1.1"/>
<text class="pct" x="519.65" y="460.5">39%</text>
<circle cx="566.60" cy="457.5" r="16.6" fill="#dddddd"/>
<path d="M566.60 440.70A16.8 16.8 0 1 1 560.42 473.12L563.29 465.87A9 9 0 1 0 566.60 448.50Z" fill="#7cb3be"/>
<circle cx="566.60" cy="457.5" r="9.9" fill="#95c2ca" stroke="#d2e8ec" stroke-width="1.1"/>
<text class="pct" x="567.50" y="460.5">56%</text>
<circle cx="614.10" cy="457.5" r="16.6" fill="#dddddd"/>
<path d="M614.10 440.70A16.8 16.8 0 0 1 619.29 473.48L616.88 466.06A9 9 0 0 0 614.10 448.50Z" fill="#7cb3be"/>
<circle cx="614.10" cy="457.5" r="9.9" fill="#95c2ca" stroke="#d2e8ec" stroke-width="1.1"/>
<text class="pct" x="615.00" y="460.5">45%</text>
<circle cx="663.40" cy="457.5" r="16.6" fill="#dddddd"/>
<path d="M663.40 440.70A16.8 16.8 0 0 1 679.02 463.68L671.77 460.81A9 9 0 0 0 663.40 448.50Z" fill="#7cb3be"/>
<circle cx="663.40" cy="457.5" r="9.9" fill="#95c2ca" stroke="#d2e8ec" stroke-width="1.1"/>
<text class="pct" x="664.30" y="460.5">31%</text>
<circle cx="709.70" cy="457.5" r="16.6" fill="#dddddd"/>
<path d="M709.70 440.70A16.8 16.8 0 1 1 694.98 465.59L701.81 461.84A9 9 0 1 0 709.70 448.50Z" fill="#7cb3be"/>
<circle cx="709.70" cy="457.5" r="9.9" fill="#95c2ca" stroke="#d2e8ec" stroke-width="1.1"/>
<text class="pct" x="710.60" y="460.5">67%</text>
<circle cx="758.10" cy="457.5" r="16.6" fill="#dddddd"/>
<circle cx="758.10" cy="457.5" r="9.9" fill="#95c2ca" stroke="#d2e8ec" stroke-width="1.1"/>
<text class="pct" x="759.00" y="460.5">0%</text>
</g>
<text class="src" x="19.3" y="509.6" textLength="80.8" lengthAdjust="spacingAndGlyphs">FUENTE: TECHO-Chile 2022</text>
<text class="brand" x="711.7" y="509.3" textLength="38.2" lengthAdjust="spacingAndGlyphs">LA TERCERA</text>
<rect x="754.7" y="484.1" width="25.8" height="25.2" fill="#ee1c25"/>
<text text-anchor="middle" font-size="22.6" fill="#fff" stroke="#fff" stroke-width="0.5" transform="translate(767.1 504.3) scale(0.81 1)">LT</text>
</svg>
</body></html>
